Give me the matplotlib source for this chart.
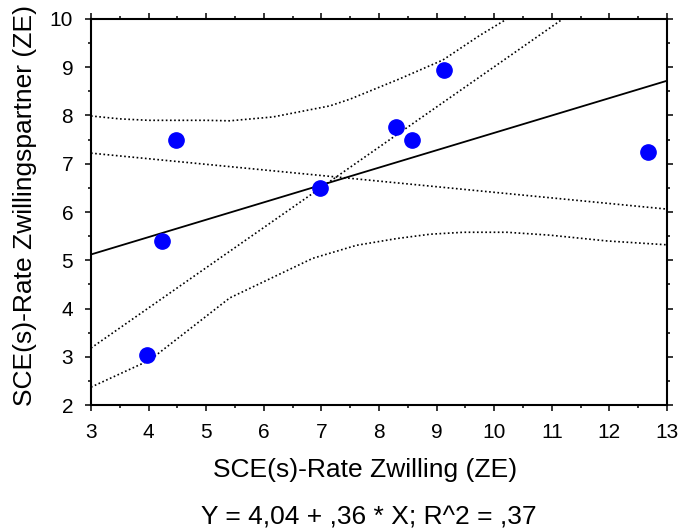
import numpy as np
import matplotlib
matplotlib.use("Agg")
import matplotlib.pyplot as plt
from matplotlib.ticker import MultipleLocator

plt.rcParams['font.family'] = ['Liberation Sans', 'DejaVu Sans']

# data points
zwilling = [3.98, 4.23, 4.48, 6.98, 8.30, 8.57, 9.13, 12.67]
partner = [3.03, 5.40, 7.49, 6.50, 7.77, 7.49, 8.94, 7.24]

# fitted line Y = 4,04 + ,36 * X
intercept, slope = 4.04, 0.36
line_x = [3, 13]

# two further dotted straight lines (start/end values)
steep_x = [3, 11.19]
steep_y = [3.18, 10.0]
flat_x = [3, 13]
flat_y = [7.22, 6.06]

# confidence band
upper_x = [3.0, 3.5, 4.0, 5.0, 5.41, 6.16, 7.15, 7.5, 8.36, 9.11, 9.75, 10.22]
upper_y = [7.99, 7.93, 7.90, 7.90, 7.89, 7.97, 8.20, 8.34, 8.76, 9.15, 9.66, 10.0]
lower_x = [3.0, 4.02, 5.41, 5.99, 6.85, 7.61, 8.31, 8.89, 9.47, 10.22, 10.97, 11.96, 13.0]
lower_y = [2.37, 2.93, 4.22, 4.55, 5.04, 5.31, 5.45, 5.54, 5.58, 5.58, 5.52, 5.40, 5.32]

fig = plt.figure(figsize=(6.81, 5.32), dpi=100)
ax = fig.add_axes([0.1336, 0.2387, 0.8458, 0.7256])

fit_x = np.array(line_x)
dots = (0, (1, 1.5))
ax.plot(fit_x, intercept + slope * fit_x, color='black', lw=1.3, zorder=2)
ax.plot(steep_x, steep_y, color='black', lw=1.2, ls=dots, zorder=2)
ax.plot(flat_x, flat_y, color='black', lw=1.2, ls=dots, zorder=2)
ax.plot(upper_x, upper_y, color='black', lw=1.2, ls=dots, zorder=2)
ax.plot(lower_x, lower_y, color='black', lw=1.2, ls=dots, zorder=2)
ax.plot(zwilling, partner, 'o', color='#0000ff', markersize=11, zorder=3)

ax.set_xlim(3, 13)
ax.set_ylim(2, 10)
ax.xaxis.set_major_locator(MultipleLocator(1))
ax.xaxis.set_minor_locator(MultipleLocator(0.5))
ax.yaxis.set_major_locator(MultipleLocator(1))
ax.yaxis.set_minor_locator(MultipleLocator(0.5))
ax.tick_params(which='both', direction='out', top=True, right=True, width=1.1,
               labelsize=15, pad=8.5)
ax.tick_params(which='major', length=4.3)
ax.tick_params(which='minor', length=2.2)
for sp in ax.spines.values():
    sp.set_linewidth(1.5)

fig.text(365.5 / 681, 1 - 477 / 532, 'SCE(s)-Rate Zwilling (ZE)', fontsize=19,
         ha='center', va='baseline')
fig.text(32 / 681, 1 - 205 / 532, 'SCE(s)-Rate Zwillingspartner (ZE)', fontsize=19,
         ha='center', va='baseline', rotation=90, rotation_mode='anchor')
fig.text(368.5 / 681, 1 - 524 / 532, 'Y = 4,04 + ,36 * X; R^2 = ,37', fontsize=19,
         ha='center', va='baseline')

fig.savefig('out.png', dpi=100)
